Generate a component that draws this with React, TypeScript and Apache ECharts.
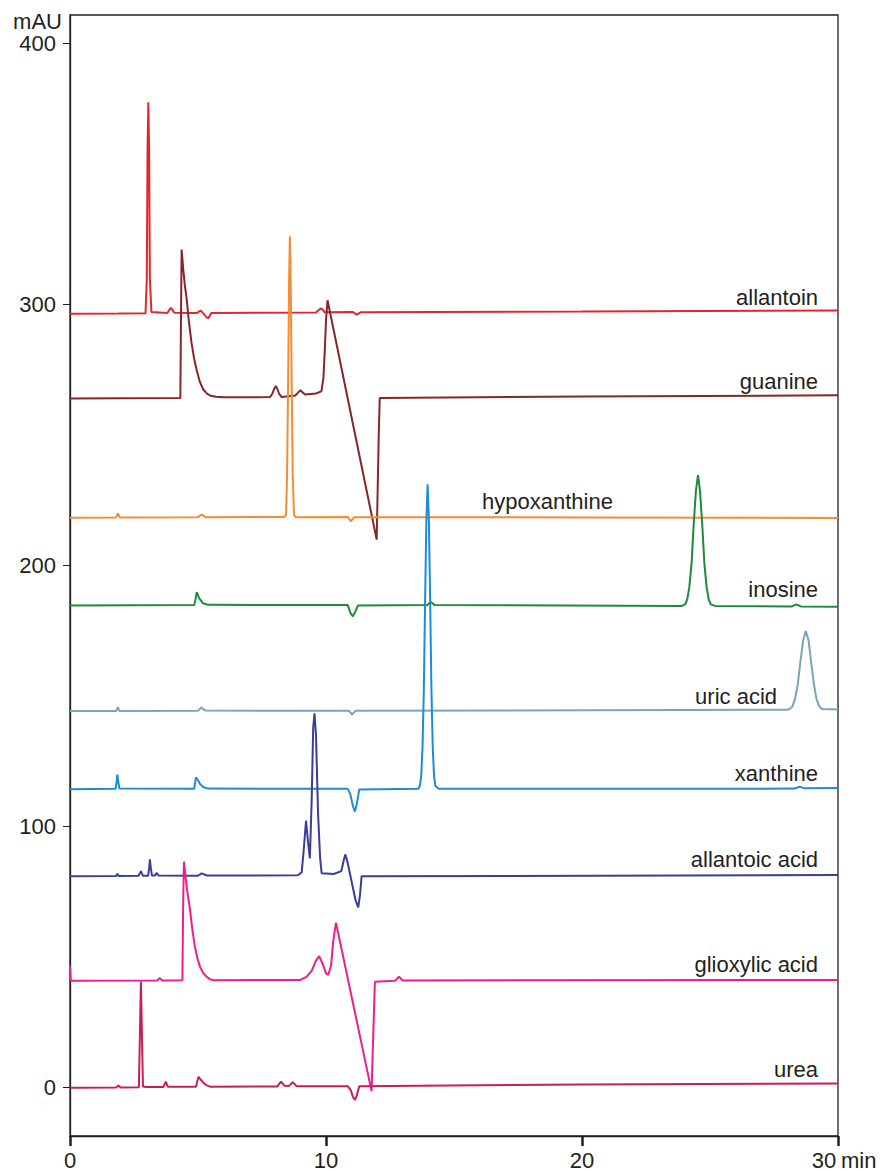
import React, { useEffect, useRef } from "react";
import * as echarts from "echarts";

type P = [number, number];

const allantoin: P[] = [
  [0, 296.5], [1.9, 296.6], [2.95, 296.7], [3.0, 310], [3.03, 360], [3.06, 377.6], [3.09, 360], [3.12, 310], [3.18, 297.2],
  [3.8, 296.8], [3.88, 298.0], [3.94, 298.8], [4.0, 298.0], [4.08, 296.9], [4.95, 296.8], [5.1, 297.8], [5.22, 296.6],
  [5.32, 295.3], [5.39, 294.8], [5.45, 295.6], [5.52, 296.8],
  [9.6, 297.0], [9.72, 298.0], [9.8, 298.6], [9.88, 298.0], [9.95, 297.1], [11.05, 297.2], [11.2, 296.2], [11.35, 297.1],
  [20, 297.4], [30, 297.8],
];

const guanine: P[] = [
  [0, 264.1], [1.9, 264.2], [4.31, 264.3], [4.34, 300], [4.36, 321.1], [4.42, 314], [4.48, 308], [4.56, 302],
  [4.65, 293], [4.75, 285.2], [4.85, 279.3], [4.95, 274.9], [5.07, 270.5], [5.2, 267.6], [5.35, 265.9],
  [5.5, 265.1], [5.7, 264.7], [6.0, 264.5], [7.81, 264.6], [7.9, 265.8], [7.97, 267.6], [8.04, 268.9], [8.1, 267.8],
  [8.17, 265.8], [8.27, 264.6], [8.8, 265.2], [8.92, 266.4], [9.0, 267.2], [9.08, 266.5], [9.18, 265.6],
  [9.6, 266.0], [9.82, 266.8], [9.9, 272], [9.95, 282], [10.0, 294], [10.06, 301.7], [11.98, 210], [12.06, 250],
  [12.1, 264.3], [20, 264.8], [30, 265.3],
];

const hypoxanthine: P[] = [
  [0, 218.4], [1.8, 218.5], [1.87, 220.0], [1.95, 218.5], [5.0, 218.6], [5.14, 219.6], [5.3, 218.6],
  [8.38, 218.7], [8.44, 219.5], [8.48, 235], [8.52, 270], [8.56, 310], [8.59, 326.2], [8.62, 310], [8.66, 270],
  [8.7, 235], [8.75, 219.5], [8.82, 218.6], [10.85, 218.7], [10.97, 217.0], [11.1, 218.6], [20, 218.5], [30, 218.3],
];

const inosine: P[] = [
  [0, 184.8], [4.85, 184.9], [4.9, 187], [4.95, 189.9], [5.05, 187.5], [5.2, 185.6], [5.4, 185.0],
  [10.85, 184.9], [10.95, 182], [11.05, 180.6], [11.15, 182.5], [11.25, 184.8], [13.95, 184.9], [14.1, 186.1],
  [14.25, 184.9], [23.9, 184.6], [24.03, 185.2], [24.11, 187.1], [24.19, 191.6], [24.28, 200.8], [24.36, 215.3],
  [24.45, 228.7], [24.53, 234.7], [24.61, 228.7], [24.7, 215.3], [24.78, 200.8], [24.87, 191.6], [24.95, 187.1],
  [25.03, 185.2], [25.2, 184.6], [28.2, 184.4], [28.37, 185.2], [28.55, 184.4], [30, 184.3],
];

const uricAcid: P[] = [
  [0, 144.3], [1.8, 144.3], [1.87, 145.8], [1.93, 144.3], [5.0, 144.4], [5.12, 145.6], [5.3, 144.5],
  [10.9, 144.4], [11.02, 143.0], [11.15, 144.4], [28.0, 144.8], [28.11, 145.1], [28.22, 146.1], [28.32, 148.9],
  [28.43, 154.5], [28.53, 163.2], [28.64, 171.4], [28.74, 175.0], [28.85, 171.4], [28.95, 163.2], [29.06, 154.5],
  [29.16, 148.9], [29.27, 146.1], [29.37, 145.1], [30, 144.9],
];

const xanthine: P[] = [
  [0, 114.4], [1.78, 114.5], [1.82, 117], [1.85, 120], [1.89, 117], [1.93, 114.6], [4.85, 114.5], [4.92, 118.9],
  [5.0, 117.8], [5.08, 116.4], [5.2, 115.2], [5.4, 114.6], [10.85, 114.5], [10.95, 112.5], [11.05, 108], [11.13, 105.8],
  [11.2, 108.5], [11.3, 114.3], [13.6, 114.5], [13.67, 115.7], [13.72, 119.5], [13.77, 130.2], [13.82, 151.8],
  [13.87, 185.6], [13.92, 217.2], [13.97, 231.2], [14.02, 217.2], [14.07, 185.6], [14.12, 151.8], [14.17, 130.2],
  [14.22, 119.5], [14.27, 115.7], [14.4, 114.5], [28.3, 114.6], [28.5, 115.3], [28.7, 114.7], [30, 114.8],
];

const allantoicAcid: P[] = [
  [0, 81.0], [1.8, 81.1], [1.85, 82.0], [1.9, 81.1], [2.68, 81.2], [2.77, 83.0], [2.85, 81.2], [3.05, 81.2],
  [3.09, 84], [3.12, 87.5], [3.16, 84], [3.2, 81.3], [3.32, 81.3], [3.38, 82.3], [3.45, 81.3], [5.0, 81.2],
  [5.14, 82.1], [5.35, 81.3], [8.9, 81.4], [9.05, 82.5], [9.12, 90], [9.22, 102.3], [9.3, 94], [9.37, 87.9],
  [9.44, 110], [9.5, 138], [9.55, 143.4], [9.61, 135], [9.69, 105], [9.77, 88], [9.83, 82.2], [10.3, 81.9],
  [10.6, 83], [10.7, 87.5], [10.76, 89.4], [10.85, 86], [11.0, 79], [11.15, 72], [11.26, 69.1], [11.33, 74],
  [11.39, 81.0], [30, 81.5],
];

const glioxylicAcid: P[] = [
  [0, 46.6], [0.03, 41.0], [3.4, 41.1], [3.51, 42.0], [3.6, 41.1], [4.39, 41.2], [4.42, 70], [4.45, 86.6],
  [4.5, 82], [4.57, 76], [4.69, 68.1], [4.78, 60.5], [4.88, 54.0], [4.98, 49.5], [5.08, 46.3], [5.2, 44.0],
  [5.34, 42.5], [5.46, 41.6], [5.6, 41.2], [9.0, 41.3], [9.24, 42.5],
  [9.45, 45], [9.6, 48.5], [9.73, 50.4], [9.87, 47.5], [10.0, 43.8], [10.09, 43.2], [10.2, 47], [10.28, 56],
  [10.39, 63.2], [11.78, -1.3], [11.86, 25], [11.91, 40.6], [12.7, 41.0], [12.85, 42.5], [13.0, 41.1], [30, 41.3],
];

const urea: P[] = [
  [0, 0], [1.8, 0.1], [1.89, 0.8], [1.98, 0.1], [2.69, 0.2], [2.72, 15], [2.77, 40.6], [2.82, 15], [2.85, 0.5],
  [2.95, 0.3], [3.65, 0.3], [3.74, 2.3], [3.82, 0.4], [4.92, 0.4], [5.02, 4.2], [5.1, 3.2], [5.2, 2.0], [5.32, 1.0],
  [5.47, 0.4], [8.1, 0.5], [8.24, 2.3], [8.38, 0.8], [8.55, 0.7], [8.7, 2.1], [8.85, 0.6], [10.85, 0.6], [10.97, -1],
  [11.05, -3.5], [11.13, -4.7], [11.2, -3], [11.3, 0.6], [20, 1.2], [30, 1.6],
];

const seriesNames = [
  "allantoin", "guanine", "hypoxanthine", "inosine", "uric acid",
  "xanthine", "allantoic acid", "glioxylic acid", "urea",
];
const seriesData: P[][] = [
  allantoin, guanine, hypoxanthine, inosine, uricAcid,
  xanthine, allantoicAcid, glioxylicAcid, urea,
];
const seriesColors = [
  "#e3262c", "#87262a", "#f58c32", "#1e8b3a", "#78a6b6",
  "#1b8cd6", "#3b3d98", "#ec1f8c", "#c91c5a",
];

const yTicks = [0, 100, 200, 300, 400];

const TEXT = "#231f20";
const FONT = "'Liberation Sans', Arial, Helvetica, sans-serif";

// label anchors in pixels: [x, y, align]
const labelPos: [number, number, string][] = [
  [818, 297, "right"],
  [818, 381, "right"],
  [482, 501, "left"],
  [818, 589, "right"],
  [777, 696, "right"],
  [818, 773, "right"],
  [818, 859, "right"],
  [818, 964, "right"],
  [818, 1069, "right"],
];

export default function App() {
  const ref = useRef<HTMLDivElement>(null);
  useEffect(() => {
    if (!ref.current) return;
    const chart = echarts.init(ref.current, undefined, { renderer: "svg" });
    const option: any = {
      animation: false,
      backgroundColor: "#ffffff",
      grid: {
        left: 70,
        right: 44,
        top: 15,
        bottom: 35,
        show: true,
        borderColor: TEXT,
        borderWidth: 1.3,
        backgroundColor: "transparent",
      },
      xAxis: {
        type: "value",
        min: 0,
        max: 30,
        interval: 10,
        axisLine: { show: true, onZero: false, lineStyle: { color: TEXT, width: 1.3 } },
        axisTick: { show: true, inside: false, length: 10, lineStyle: { color: TEXT, width: 2.5 } },
        splitLine: { show: false },
        axisLabel: {
          fontSize: 22,
          color: TEXT,
          fontFamily: FONT,
          margin: 13,
          formatter: (v: number) => (v === 30 ? "{r|30}" : String(v)),
          rich: { r: { fontSize: 22, color: TEXT, fontFamily: FONT, padding: [0, 28, 0, 0] } },
        },
      },
      yAxis: {
        type: "value",
        min: -18.5,
        max: 411,
        axisLine: { show: true, onZero: false, lineStyle: { color: TEXT, width: 1.3 } },
        axisTick: { show: true, inside: false, length: 7, customValues: yTicks, lineStyle: { color: TEXT, width: 1 } },
        splitLine: { show: false },
        axisLabel: {
          fontSize: 22,
          color: TEXT,
          fontFamily: FONT,
          margin: 14,
          customValues: yTicks,
        },
      },
      series: seriesData.map((d, i) => ({
        type: "line",
        name: seriesNames[i],
        data: d,
        showSymbol: false,
        symbol: "none",
        smooth: false,
        lineStyle: { color: seriesColors[i], width: 2 },
        itemStyle: { color: seriesColors[i] },
      })),
      graphic: [
        {
          type: "text",
          x: 62,
          y: 21,
          style: { text: "mAU", fontSize: 22, fill: TEXT, fontFamily: FONT, align: "right", verticalAlign: "middle" },
        },
        {
          type: "text",
          x: 841,
          y: 1160,
          style: { text: "min", fontSize: 22, fill: TEXT, fontFamily: FONT, align: "left", verticalAlign: "middle" },
        },
        ...seriesNames.map((n, i) => ({
          type: "text",
          x: labelPos[i][0],
          y: labelPos[i][1],
          style: {
            text: n,
            fontSize: 22,
            fill: TEXT,
            fontFamily: FONT,
            align: labelPos[i][2],
            verticalAlign: "middle",
          },
        })),
      ],
    };
    chart.setOption(option);
    return () => chart.dispose();
  }, []);
  return (
    <div
      ref={ref}
      style={{ position: "fixed", left: 0, top: 0, width: 882, height: 1171, background: "#fff" }}
    />
  );
}
